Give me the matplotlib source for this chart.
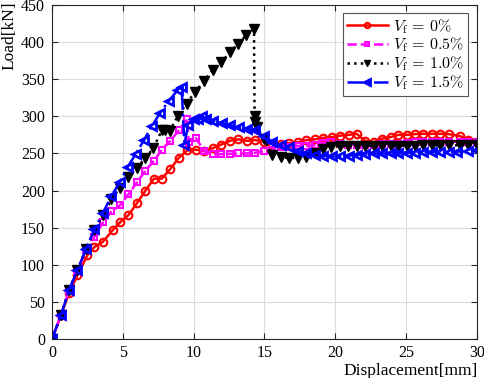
import numpy as np
import matplotlib
matplotlib.use('Agg')
import matplotlib.pyplot as plt

plt.rcParams['font.family'] = ['Liberation Serif', 'DejaVu Serif']
plt.rcParams['mathtext.fontset'] = 'cm'

# Vf = 0%
x_v0 = [0, 0.64, 1.2, 1.8, 2.5, 3.0, 3.6, 4.3, 4.8, 5.4, 6.0, 6.6, 7.2, 7.75, 8.35, 8.95,
        9.55, 10.15, 10.75, 11.35, 11.95, 12.55, 13.15, 13.75, 14.35, 14.95, 15.55, 16.15,
        16.75, 17.35, 17.95, 18.55, 19.15, 19.75, 20.35, 20.95, 21.5, 22.1, 22.7, 23.3,
        23.9, 24.45, 25.05, 25.6, 26.2, 26.8, 27.4, 28.0, 28.8, 29.4, 30.0]
y_v0 = [0, 32, 62, 86, 113, 124, 131, 147, 157, 167, 183, 200, 216, 216, 229, 244,
        254, 255, 253, 257, 262, 267, 269, 267, 268, 266, 263, 263,
        264, 265, 268, 269, 271, 272, 274, 275, 276.5, 267, 265, 270,
        272, 275, 275, 276, 276.5, 276.5, 276.5, 276, 273.5, 268, 265]

# Vf = 0.5%
x_v05 = [0, 0.64, 1.2, 1.8, 2.4, 3.0, 3.6, 4.2, 4.8, 5.4, 6.0, 6.6, 7.2, 7.75, 8.35, 8.95,
         9.55, 9.65, 10.15, 10.75, 11.35, 11.95, 12.55, 13.15, 13.75, 14.35, 14.95, 15.55,
         16.15, 16.75, 17.35, 17.95, 18.55, 19.15, 19.7, 20.3, 20.9, 21.5, 22.1, 22.7,
         23.3, 23.9, 24.45, 25.05, 25.6, 26.2, 26.8, 27.4, 28.0, 28.8, 29.4, 30.0]
y_v05 = [0, 33, 65, 92, 120, 138, 157, 172, 180, 195, 211, 227, 240, 255, 267, 281,
         296, 266, 271, 253, 249, 249, 249.5, 250, 250, 251, 253, 255,
         258, 259, 260, 260.5, 261, 264, 266, 263, 262, 262, 262, 262,
         263, 263, 263, 264, 265, 265, 265.5, 266, 266, 265.5, 265, 265]

# Vf = 1.0%
x_v10 = [0, 0.64, 1.2, 1.8, 2.4, 3.0, 3.6, 4.2, 4.8, 5.4, 6.0, 6.6, 7.15, 7.75, 8.0, 8.3,
         8.9, 9.5, 10.1, 10.7, 11.35, 11.95, 12.55, 13.15, 13.7, 14.26, 14.3, 14.35, 14.45,
         14.95, 15.55, 16.15, 16.75, 17.35, 17.95, 18.6, 19.15, 19.7, 20.3, 20.9, 21.5,
         22.1, 22.7, 23.3, 23.9, 24.45, 25.05, 25.6, 26.2, 26.8, 27.4, 28.0, 28.8, 29.4, 30.0]
y_v10 = [0, 32, 66, 93, 121, 147, 167, 188, 204, 218, 231, 244, 257, 281, 282, 280,
         301, 317, 333, 347, 362, 373, 386, 398, 409, 418, 300, 292, 285,
         270, 247.5, 245, 244, 244, 245, 250.5, 256, 259, 260, 260, 260,
         260, 260, 260.5, 260.5, 260.5, 260.5, 260.5, 261, 261, 261, 261, 261, 261, 261]

# Vf = 1.5%
x_v15 = [0, 0.64, 1.2, 1.8, 2.4, 3.0, 3.6, 4.2, 4.8, 5.35, 5.9, 6.5, 7.05, 7.65, 8.25, 8.9,
         9.15, 9.35, 9.6, 10.0, 10.3, 10.6, 10.85, 11.4, 12.0, 12.6, 13.2, 13.75, 14.35,
         14.95, 15.55, 16.15, 16.75, 17.35, 17.95, 18.55, 19.15, 19.75, 20.35, 20.95, 21.5,
         22.1, 22.7, 23.3, 23.9, 24.45, 25.05, 25.6, 26.2, 26.8, 27.4, 28.0, 28.6, 29.4, 30.0]
y_v15 = [0, 32, 66, 93, 121, 148, 170, 193, 212, 232, 249, 268, 287, 305, 321, 336,
         339, 262, 288, 296, 297, 300, 297, 294, 291, 288, 285, 283, 281,
         273, 266, 261, 258, 253, 251, 248, 247, 246, 246, 247, 248,
         249, 250, 250, 250, 250, 251, 251, 251.5, 252, 252, 252, 252.5, 253, 254]

labels = [r'$V_{\mathrm{f}}\,=\,0\%$', r'$V_{\mathrm{f}}\,=\,0.5\%$',
          r'$V_{\mathrm{f}}\,=\,1.0\%$', r'$V_{\mathrm{f}}\,=\,1.5\%$']

fig = plt.figure(figsize=(4.84, 3.78), dpi=100)
ax = fig.add_axes([0.1074, 0.1032, 0.8781, 0.8836])

ax.plot(x_v0, y_v0, '-o', color='red', lw=1.8, ms=5.5, mfc='none', mew=1.5, label=labels[0])
ax.plot(x_v05, y_v05, '--s', color='magenta', lw=1.8, ms=5, mfc='none', mew=1.5, label=labels[1])
ax.plot(x_v10, y_v10, ':v', color='black', lw=1.8, ms=6.5, label=labels[2])
ax.plot(x_v15, y_v15, '-.<', color='blue', lw=1.8, ms=6, mfc='none', mew=2.0, label=labels[3])

ax.set_xlim(0, 30)
ax.set_ylim(0, 450)
ax.set_xticks(np.arange(0, 31, 5))
ax.set_yticks(np.arange(0, 451, 50))
ax.grid(True, color='#dcdcdc', lw=0.8)
ax.set_axisbelow(True)
ax.tick_params(direction='in', top=True, right=True, length=4, width=0.8,
               labelsize=11.5, colors='#262626', labelcolor='black')
ax.tick_params(axis='x', pad=4)
ax.tick_params(axis='y', pad=5)
for s in ax.spines.values():
    s.set_color('#262626')
    s.set_linewidth(0.8)

fig.text(0.986, 0.008, 'Displacement[mm]', ha='right', va='baseline', fontsize=12.5)
fig.text(0.004, 0.995, 'Load[kN]', ha='left', va='top', rotation=90, fontsize=12.5)

leg = ax.legend(loc='upper right', bbox_to_anchor=(0.979, 0.976), borderaxespad=0,
                fancybox=False, edgecolor='#555555', fontsize=11.5, handlelength=2.6,
                labelspacing=0.0, borderpad=0.25, handletextpad=0.3, framealpha=1,
                markerscale=0.7)
leg.get_frame().set_linewidth(0.8)

plt.savefig('out.png', dpi=100)
